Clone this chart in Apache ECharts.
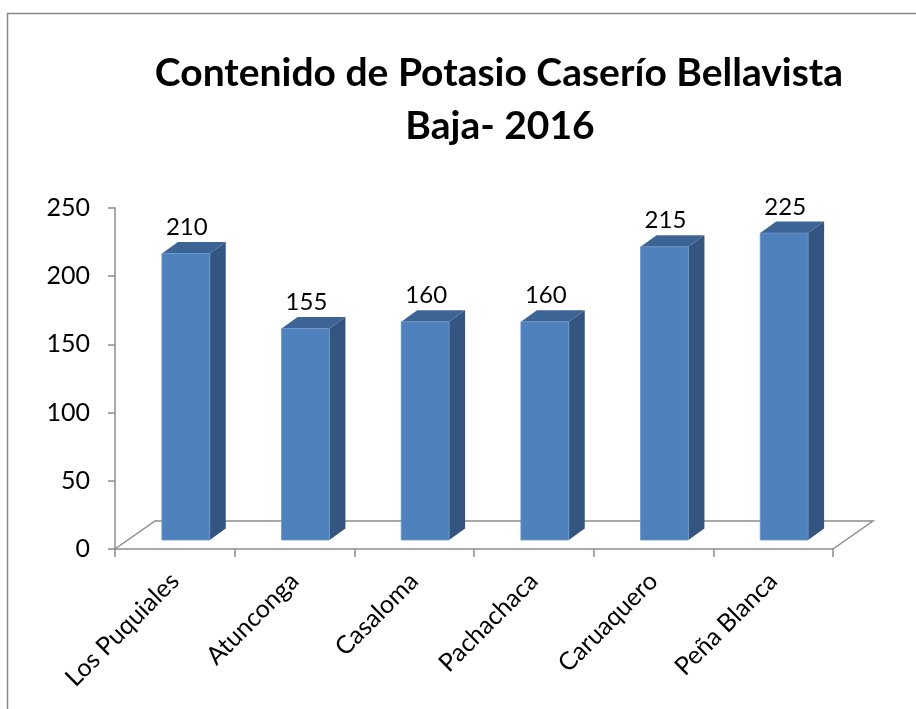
<!DOCTYPE html>
<html><head><meta charset="utf-8">
<script src="https://cdn.jsdelivr.net/npm/echarts@6/dist/echarts.min.js"></script>
<style>html,body{margin:0;padding:0;background:#fff}#c{width:916px;height:709px}</style>
</head><body><div id="c"></div>
<script>
const categories = ['Los Puquiales', 'Atunconga', 'Casaloma', 'Pachachaca', 'Caruaquero', 'Peña Blanca'];
const values = [210, 155, 160, 160, 215, 225];
const yMin = 0, yMax = 250, yInterval = 50;
const titleLines = ['Contenido de Potasio Caserío Bellavista', 'Baja- 2016'];

const FONT = 'Lato, "Open Sans", sans-serif';
const SHIFT_X = 11, SHIFT_Y = -9;     // front face offset into the floor
const DEPTH_X = 16, DEPTH_Y = -11.5;  // bar depth
const FLOOR_X = 40, FLOOR_Y = -28;    // floor depth

const chart = echarts.init(document.getElementById('c'));

function renderBar(params, api) {
  const i = api.value(0), v = api.value(1);
  const base = api.coord([i, 0]);
  const top = api.coord([i, v]);
  const band = api.size([1, 0])[0];
  const w = band * 0.4;
  const x0 = base[0] - w / 2 + SHIFT_X, x1 = x0 + w;
  const yb = base[1] + SHIFT_Y, yt = top[1] + SHIFT_Y;
  return {
    type: 'group',
    children: [
      { type: 'polygon', shape: { points: [[x1, yb], [x1 + DEPTH_X, yb + DEPTH_Y], [x1 + DEPTH_X, yt + DEPTH_Y], [x1, yt]] },
        style: { fill: '#33557F' } },
      { type: 'polygon', shape: { points: [[x0, yt], [x0 + DEPTH_X, yt + DEPTH_Y], [x1 + DEPTH_X, yt + DEPTH_Y], [x1, yt]] },
        style: { fill: '#3C6596' } },
      { type: 'rect', shape: { x: x0, y: yt, width: w, height: yb - yt },
        style: { fill: '#4F81BD', stroke: '#6A95C8', lineWidth: 0.8 } },
      { type: 'text', x: (x0 + x1) / 2 + 1, y: yt - 26,
        style: { text: String(v), textAlign: 'center', textVerticalAlign: 'middle', font: '24px ' + FONT, fill: '#000' } }
    ]
  };
}

function renderFloor(params, api) {
  const cs = params.coordSys;
  const xL = cs.x, xR = cs.x + cs.width, yF = cs.y + cs.height;
  return {
    type: 'polyline',
    shape: { points: [[xL, yF], [xL + FLOOR_X, yF + FLOOR_Y], [xR + FLOOR_X, yF + FLOOR_Y], [xR, yF]] },
    style: { stroke: '#8C8C8C', lineWidth: 1.5, fill: null }
  };
}

const option = {
  animation: false,
  backgroundColor: '#fff',
  grid: { left: 115, top: 208, width: 718, height: 341 },
  xAxis: {
    type: 'category',
    data: categories,
    boundaryGap: true,
    axisLine: { lineStyle: { color: '#8C8C8C', width: 1.5 } },
    axisTick: { show: true, length: 8, interval: 0, lineStyle: { color: '#8C8C8C', width: 1.5 } },
    axisLabel: { interval: 0, rotate: 45, margin: 28, fontSize: 25, fontFamily: FONT, color: '#000' },
    splitLine: { show: false }
  },
  yAxis: {
    type: 'value',
    min: yMin, max: yMax, interval: yInterval,
    axisLine: { show: true, lineStyle: { color: '#8C8C8C', width: 1.5 } },
    axisTick: { show: true, length: 7, lineStyle: { color: '#8C8C8C', width: 1.5 } },
    axisLabel: { margin: 25, fontSize: 25, fontFamily: FONT, color: '#000' },
    splitLine: { show: false }
  },
  graphic: [
    { type: 'rect', left: 5, top: 11, shape: { width: 1000, height: 1000 }, style: { fill: null, stroke: '#888', lineWidth: 1.5 }, z: 0 },
    { type: 'text', x: 499, y: 73, style: { text: titleLines[0], textAlign: 'center', textVerticalAlign: 'middle', font: 'bold 39px ' + FONT, fill: '#000' } },
    { type: 'text', x: 500, y: 126, style: { text: titleLines[1], textAlign: 'center', textVerticalAlign: 'middle', font: 'bold 39px ' + FONT, fill: '#000' } }
  ],
  series: [
    { type: 'custom', renderItem: renderFloor, data: [[0, 0]], z: 1, silent: true },
    { type: 'custom', renderItem: renderBar, data: values.map((v, i) => [i, v]), z: 2, silent: true }
  ]
};
chart.setOption(option);
</script>
</body></html>
